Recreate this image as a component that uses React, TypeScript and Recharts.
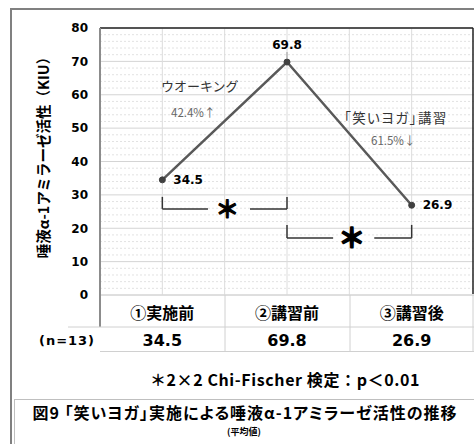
import React from 'react';
import {
  LineChart, Line, XAxis, YAxis, CartesianGrid, ReferenceLine, ReferenceDot, LabelList,
} from 'recharts';

const categories = ['①実施前', '②講習前', '③講習後'];
const values = [34.5, 69.8, 26.9];
const yTicks = [0, 10, 20, 30, 40, 50, 60, 70, 80];
const nLabel = '(n=13)';
const yLabel = '唾液α-1アミラーゼ活性（KIU）';
const noteText = '＊2×2 Chi-Fischer 検定：p＜0.01';
const titleText = '図9 「笑いヨガ」実施による唾液α-1アミラーゼ活性の推移';
const subTitle = '(平均値)';
const annot1 = ['ウオーキング', '42.4%↑'];
const annot2 = ['「笑いヨガ」講習', '61.5%↓'];

const data = categories.map((c, i) => ({ x: i + 0.5, name: c, value: values[i] }));
const minorTicks: number[] = [];
for (let v = 2; v < 80; v += 2) if (v % 10 !== 0) minorTicks.push(v);
const vGrid = [0.5, 1, 1.5, 2, 2.5];

// significance brackets (annotation geometry in data units)
const brackets = [
  { x1: 0.5, x2: 1.5, y: 25.8, top: 29.4, gapL: 0.866, gapR: 1.203, star: 1.02 },
  { x1: 1.5, x2: 2.5, y: 17.1, top: 21.0, gapL: 1.87, gapR: 2.2, star: 2.02 },
];

const JP = '"Noto Sans CJK JP", "Noto Sans", sans-serif';
const NUM = '"DejaVu Sans", Verdana, sans-serif';
const palt = { fontFeatureSettings: '"palt"' } as React.CSSProperties;

const XTick = (props: any) => {
  const { x, y, payload } = props;
  const i = Math.floor(payload.value);
  return (
    <g>
      <text x={x} y={y + 17} textAnchor="middle" dominantBaseline="central"
        fontFamily={JP} fontWeight={700} fontSize={16} fill="#000">{categories[i]}</text>
      <text x={x} y={y + 45} textAnchor="middle" dominantBaseline="central"
        fontFamily={NUM} fontWeight={700} fontSize={16} fill="#000">{values[i].toFixed(1)}</text>
    </g>
  );
};

const renderLabel = (props: any) => {
  const { x, y, value, index } = props;
  if (index === 1) {
    return (
      <g>
        <line x1={x} y1={y - 10} x2={x} y2={y - 3} stroke="#999" strokeWidth={1} />
        <text x={x} y={y - 17} textAnchor="middle" dominantBaseline="central"
          fontFamily={NUM} fontWeight={700} fontSize={12} fill="#000">{Number(value).toFixed(1)}</text>
      </g>
    );
  }
  return (
    <text x={x + 11} y={y} textAnchor="start" dominantBaseline="central"
      fontFamily={NUM} fontWeight={700} fontSize={12} fill="#000">{Number(value).toFixed(1)}</text>
  );
};

export default function App() {
  return (
    <div style={{ position: 'absolute', left: 0, top: 0, width: 474, height: 444, background: '#fff' }}>
      <LineChart width={474} height={444} data={data}
        margin={{ top: 28, right: 0, bottom: 89, left: 0 }}>
        <CartesianGrid vertical={false} stroke="#d4d4d4" strokeWidth={1} />
        {minorTicks.map((v) => (
          <ReferenceLine key={'m' + v} y={v} stroke="#e2e2e2" strokeDasharray="2 2" strokeWidth={1} />
        ))}
        {vGrid.map((v) => (
          <ReferenceLine key={'v' + v} x={v} stroke="#dcdcdc" strokeWidth={1} />
        ))}
        <XAxis dataKey="x" type="number" domain={[0, 3]} ticks={[0.5, 1.5, 2.5]}
          tick={<XTick />} tickLine={false} tickSize={0} tickMargin={0}
          axisLine={{ stroke: '#d4d4d4' }} height={60} interval={0} allowDataOverflow />
        <YAxis type="number" domain={[0, 80]} ticks={yTicks} width={100}
          axisLine={false} tickLine={false} tickMargin={6} interval={0}
          tick={{ fontFamily: NUM, fontWeight: 700, fontSize: 12, fill: '#000' }} />
        {brackets.map((b, i) => (
          <ReferenceLine key={'bl' + i} segment={[{ x: b.x1, y: b.top }, { x: b.x1, y: b.y }]} stroke="#333" strokeWidth={1.5} />
        ))}
        {brackets.map((b, i) => (
          <ReferenceLine key={'bh' + i} segment={[{ x: b.x1, y: b.y }, { x: b.gapL, y: b.y }]} stroke="#333" strokeWidth={1.5} />
        ))}
        {brackets.map((b, i) => (
          <ReferenceLine key={'br' + i} segment={[{ x: b.gapR, y: b.y }, { x: b.x2, y: b.y }]} stroke="#333" strokeWidth={1.5} />
        ))}
        {brackets.map((b, i) => (
          <ReferenceLine key={'bv' + i} segment={[{ x: b.x2, y: b.y }, { x: b.x2, y: b.top }]} stroke="#333" strokeWidth={1.5} />
        ))}
        {brackets.map((b, i) => (
          <ReferenceDot key={'bs' + i} x={b.star} y={b.y} r={0}
            shape={(p: any) => (
              <text x={p.cx} y={p.cy + (i === 0 ? 9 : 10)} textAnchor="middle"
                fontFamily={JP} fontWeight={700} fontSize={i === 0 ? 24 : 27}
                stroke="#000" strokeWidth={i === 0 ? 1 : 1.6} strokeLinejoin="round" fill="#000">＊</text>
            )} />
        ))}
        <Line dataKey="value" stroke="#595959" strokeWidth={2.5}
          dot={{ r: 3, fill: '#404040', stroke: '#404040', strokeWidth: 1 }}
          isAnimationActive={false}>
          <LabelList dataKey="value" content={renderLabel} />
        </Line>
      </LineChart>
      <svg width={474} height={444} style={{ position: 'absolute', left: 0, top: 0, pointerEvents: 'none' }}>
        {/* outer frame */}
        <line x1={11} y1={9} x2={474} y2={9} stroke="#808080" strokeWidth={2} />
        <line x1={11} y1={8} x2={11} y2={444} stroke="#808080" strokeWidth={2} />
        {/* plot borders */}
        <line x1={100} y1={28} x2={473} y2={28} stroke="#222" strokeWidth={1.5} />
        <line x1={473} y1={28} x2={473} y2={294} stroke="#222" strokeWidth={1.5} />
        <line x1={100} y1={28} x2={100} y2={327} stroke="#8c8c8c" strokeWidth={2} />
        {/* table */}
        <line x1={68} y1={327} x2={474} y2={327} stroke="#d0d0d0" strokeWidth={1} />
        <line x1={100} y1={351.5} x2={474} y2={351.5} stroke="#d0d0d0" strokeWidth={1} />
        <line x1={225} y1={295} x2={225} y2={352} stroke="#d0d0d0" strokeWidth={1} />
        <line x1={350} y1={295} x2={350} y2={352} stroke="#d0d0d0" strokeWidth={1} />
        <line x1={473} y1={295} x2={473} y2={352} stroke="#d0d0d0" strokeWidth={1} />
        <text x={67} y={340} textAnchor="middle" dominantBaseline="central"
          fontFamily={NUM} fontWeight={700} fontSize={13} letterSpacing={1} fill="#000">{nLabel}</text>
        {/* y label */}
        <text x={42} y={154} textAnchor="middle" dominantBaseline="central" transform="rotate(-90 42 154)"
          fontFamily={JP} fontWeight={700} fontSize={14.5} fill="#000">{yLabel}</text>
        {/* annotations */}
        <text x={161} y={85} dominantBaseline="central" fontFamily={JP} fontSize={13} fill="#333">{annot1[0]}</text>
        <text x={171} y={112} dominantBaseline="central" fontFamily={JP} fontSize={11.5} fill="#666">{annot1[1]}</text>
        <text x={344} y={117} dominantBaseline="central" fontFamily={JP} fontSize={13.5} letterSpacing={1.4} fill="#333" style={palt}>{annot2[0]}</text>
        <text x={371} y={140} dominantBaseline="central" fontFamily={JP} fontSize={11.5} fill="#666">{annot2[1]}</text>
        {/* note */}
        <text x={285} y={379} textAnchor="middle" dominantBaseline="central"
          fontFamily={JP} fontWeight={700} fontSize={16} letterSpacing={0.6} fill="#000">{noteText}</text>
        {/* title box */}
        <rect x={14.5} y={399.5} width={470} height={60} fill="none" stroke="#bfbfbf" strokeWidth={1} />
        <text x={245} y={412} textAnchor="middle" dominantBaseline="central"
          fontFamily={JP} fontWeight={700} fontSize={16} letterSpacing={1} fill="#000" style={palt}>{titleText}</text>
        <text x={244} y={431} textAnchor="middle" dominantBaseline="central"
          fontFamily={JP} fontWeight={700} fontSize={9} fill="#000">{subTitle}</text>
      </svg>
    </div>
  );
}
